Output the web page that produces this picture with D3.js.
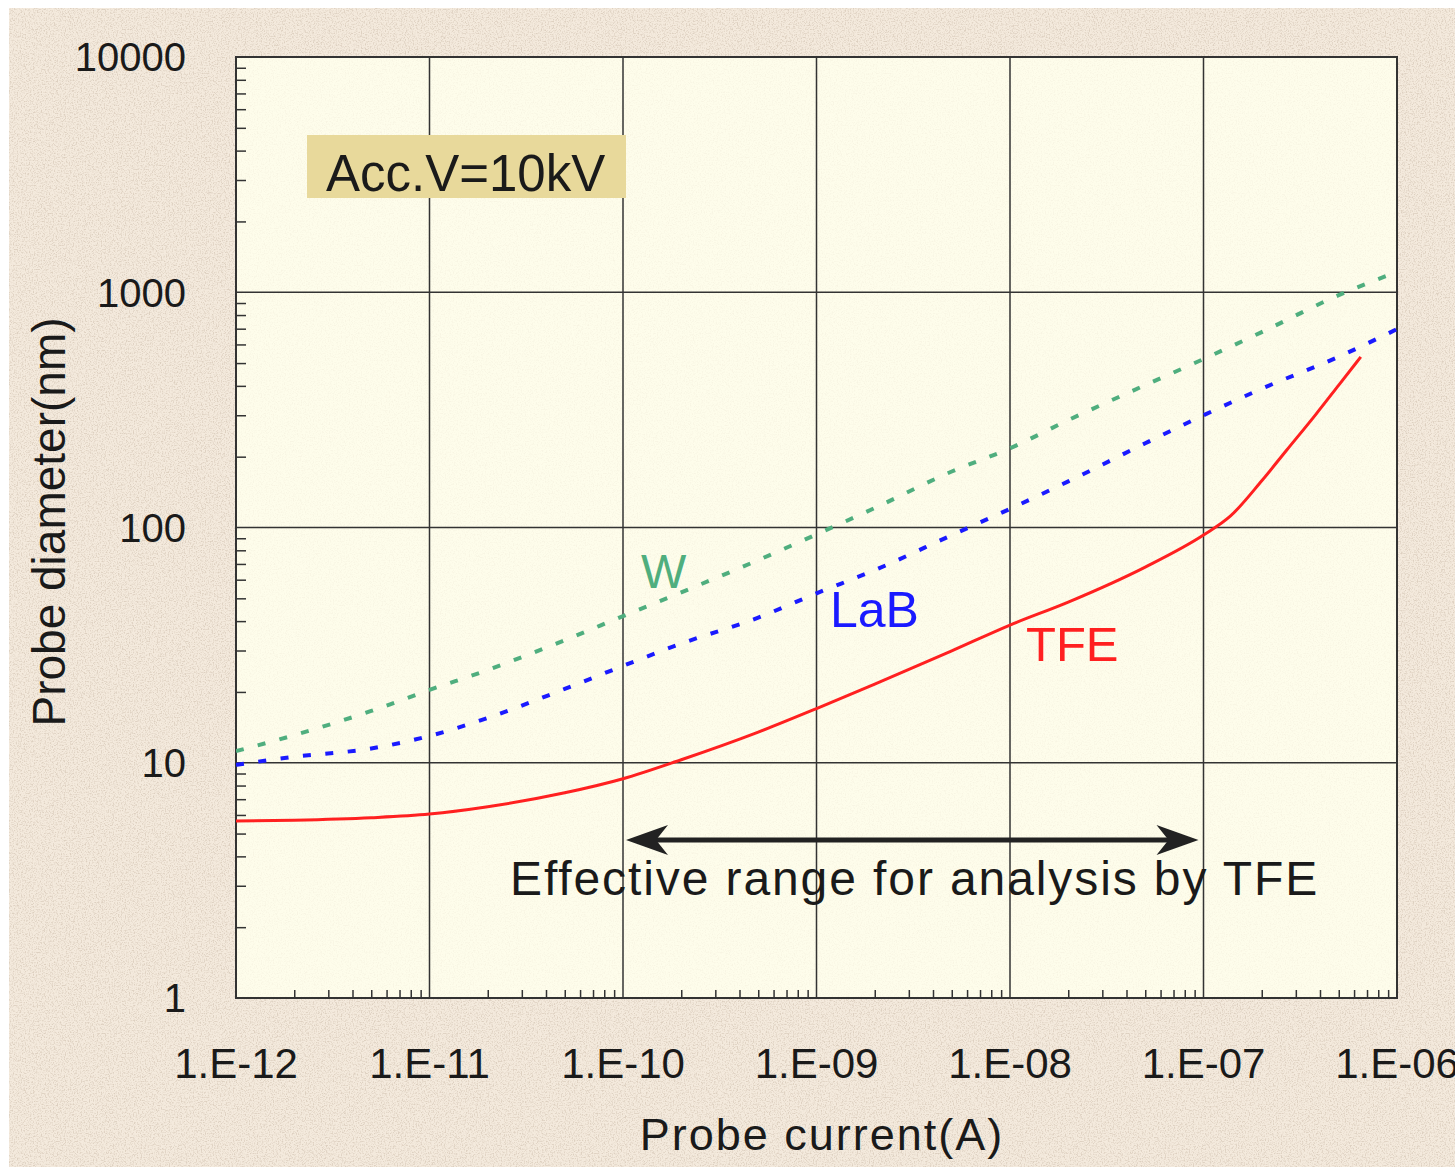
<!DOCTYPE html>
<meta charset="utf-8">
<script src="https://d3js.org/d3.v7.min.js"></script>
<style>
body { margin: 0; background: #fff; }
svg { display: block; font-family: Arial, 'Liberation Sans', sans-serif; }
</style>
<svg width="1455" height="1167"></svg>
<script>
// probe current (A) shared by W and LaB
var currentA = [1e-12, 2e-12, 5e-12, 1e-11, 2e-11, 5e-11, 1e-10, 2e-10, 5e-10,
                1e-9, 2e-9, 5e-9, 1e-8, 2e-8, 5e-8, 1e-7, 2e-7, 5e-7, 1e-6];
// probe diameter (nm)
var wDiam   = [11.2, 13.1, 16.6, 20.4, 24.8, 33.2, 42, 53, 72.7,
               93.5, 121, 173, 217, 286, 403, 520, 677, 972, 1221];
var labDiam = [9.8, 10.6, 11.5, 13.0, 15.5, 20.6, 25.8, 32.1, 41.4,
               52.5, 65.9, 92.8, 120, 157, 228, 300, 389, 532, 697];
// TFE has its own sampling (ends near 6.5E-07)
var tfeCurrent = [1e-12, 2e-12, 5e-12, 1e-11, 2e-11, 5e-11, 1e-10, 2e-10, 5e-10,
                  1e-9, 2e-9, 5e-9, 1e-8, 2e-8, 5e-8, 1e-7, 1.38e-7, 2e-7, 2.7e-7, 3.8e-7, 5e-7, 6.5e-7];
var tfeDiam    = [5.65, 5.7, 5.84, 6.05, 6.5, 7.45, 8.55, 10.3, 13.5,
                  17.0, 21.6, 29.9, 38.5, 48.2, 67.9, 92.9, 112, 158, 214, 302, 403, 531];

var xTicks = [1e-12, 1e-11, 1e-10, 1e-9, 1e-8, 1e-7, 1e-6];
var xTickLabels = ["1.E-12", "1.E-11", "1.E-10", "1.E-09", "1.E-08", "1.E-07", "1.E-06"];
var yTicks = [1, 10, 100, 1000, 10000];
var yTickLabels = ["1", "10", "100", "1000", "10000"];
var effRange = [1e-10, 1e-7]; // effective range for TFE

var svg = d3.select("svg");
var pL = 236, pR = 1397, pT = 57, pB = 998;

var x = d3.scaleLog().domain([1e-12, 1e-6]).range([pL, pR]);
var y = d3.scaleLog().domain([1, 10000]).range([pB, pT]);

// grain texture
var defs = svg.append("defs");
var f = defs.append("filter").attr("id", "grain").attr("x", 0).attr("y", 0).attr("width", 1).attr("height", 1);
f.append("feTurbulence").attr("type", "fractalNoise").attr("baseFrequency", 0.75).attr("numOctaves", 2).attr("seed", 4);
f.append("feColorMatrix").attr("type", "matrix")
  .attr("values", "0 0 0 0 0.62  0 0 0 0 0.52  0 0 0 0 0.42  3.2 0 0 0 -1.45");
defs.append("clipPath").attr("id", "plotclip").append("rect")
  .attr("x", pL).attr("y", pT).attr("width", pR - pL).attr("height", pB - pT);

// outer background
svg.append("rect").attr("x", 9).attr("y", 8).attr("width", 1446).attr("height", 1159).attr("fill", "#f4eadd");
svg.append("rect").attr("x", 9).attr("y", 8).attr("width", 1446).attr("height", 1159)
  .attr("filter", "url(#grain)").attr("opacity", 0.6);

// plot area
svg.append("rect").attr("x", pL).attr("y", pT).attr("width", pR - pL).attr("height", pB - pT)
  .attr("fill", "#fefdeb");
svg.append("rect").attr("x", pL).attr("y", pT).attr("width", pR - pL).attr("height", pB - pT)
  .attr("filter", "url(#grain)").attr("opacity", 0.12);

// major grid
var g = svg.append("g");
g.selectAll(".vg").data(xTicks).enter().append("line")
  .attr("x1", function(d) { return x(d); }).attr("x2", function(d) { return x(d); })
  .attr("y1", pT).attr("y2", pB).attr("stroke", "#333").attr("stroke-width", 1.5);
g.selectAll(".hg").data(yTicks).enter().append("line")
  .attr("y1", function(d) { return y(d); }).attr("y2", function(d) { return y(d); })
  .attr("x1", pL).attr("x2", pR).attr("stroke", "#333").attr("stroke-width", 1.5);

// minor ticks (inside)
var xMinor = [], yMinor = [];
xTicks.slice(0, -1).forEach(function(t) { for (var k = 2; k < 10; k++) xMinor.push(t * k); });
yTicks.slice(0, -1).forEach(function(t) { for (var k = 2; k < 10; k++) yMinor.push(t * k); });

svg.append("g").attr("transform", "translate(0," + pB + ")")
  .call(d3.axisBottom(x).tickValues(xMinor).tickSize(-8).tickFormat(""))
  .call(function(s) { s.select(".domain").remove(); s.selectAll("line").attr("stroke", "#333").attr("stroke-width", 1.5); });
svg.append("g").attr("transform", "translate(" + pL + ",0)")
  .call(d3.axisLeft(y).tickValues(yMinor).tickSize(-10).tickFormat(""))
  .call(function(s) { s.select(".domain").remove(); s.selectAll("line").attr("stroke", "#333").attr("stroke-width", 1.5); });

// frame
svg.append("rect").attr("x", pL).attr("y", pT).attr("width", pR - pL).attr("height", pB - pT)
  .attr("fill", "none").attr("stroke", "#333").attr("stroke-width", 2);

// tick labels
svg.append("g").selectAll("text").data(xTicks).enter().append("text")
  .attr("x", function(d) { return x(d); }).attr("y", 1078)
  .attr("text-anchor", "middle").attr("font-size", 42).attr("fill", "#1a1a1a")
  .text(function(d, i) { return xTickLabels[i]; });
svg.append("g").selectAll("text").data(yTicks).enter().append("text")
  .attr("x", 186).attr("y", function(d) { return y(d); }).attr("dy", "0.36em")
  .attr("text-anchor", "end").attr("font-size", 40).attr("fill", "#1a1a1a")
  .text(function(d, i) { return yTickLabels[i]; });

// axis titles
svg.append("text").attr("x", 822).attr("y", 1150).attr("text-anchor", "middle")
  .attr("font-size", 45).attr("letter-spacing", 2).attr("fill", "#1a1a1a").text("Probe current(A)");
svg.append("text").attr("transform", "translate(65,522) rotate(-90)").attr("text-anchor", "middle")
  .attr("font-size", 46).attr("fill", "#1a1a1a").text("Probe diameter(nm)");

// series
var plot = svg.append("g").attr("clip-path", "url(#plotclip)");
var line = d3.line().curve(d3.curveMonotoneX)
  .x(function(d) { return x(d[0]); }).y(function(d) { return y(d[1]); });

plot.append("path").datum(d3.zip(currentA, wDiam)).attr("d", line)
  .attr("fill", "none").attr("stroke", "#4fae7e").attr("stroke-width", 4).attr("stroke-dasharray", "8,14.5");
plot.append("path").datum(d3.zip(currentA, labDiam)).attr("d", line)
  .attr("fill", "none").attr("stroke", "#1a1aff").attr("stroke-width", 4).attr("stroke-dasharray", "8,14.5");
plot.append("path").datum(d3.zip(tfeCurrent, tfeDiam)).attr("d", line)
  .attr("fill", "none").attr("stroke", "#ff2020").attr("stroke-width", 3);

// series labels
svg.append("text").attr("x", 641).attr("y", 588).attr("font-size", 48).attr("fill", "#4fae7e").text("W");
svg.append("text").attr("x", 830).attr("y", 627).attr("font-size", 50).attr("fill", "#1a1aff").text("LaB");
svg.append("text").attr("x", 1026).attr("y", 661).attr("font-size", 49).attr("fill", "#ff2020").text("TFE");

// condition box
svg.append("rect").attr("x", 307).attr("y", 135).attr("width", 319).attr("height", 63).attr("fill", "#e8d99b");
svg.append("text").attr("x", 326).attr("y", 191).attr("font-size", 51).attr("fill", "#1a1a1a").text("Acc.V=10kV");

// effective range arrow
var ay = y(4.7), x0 = x(effRange[0]) + 3, x1 = x(effRange[1]) - 5;
var arrow = svg.append("g").attr("fill", "#222");
arrow.append("line").attr("x1", x0 + 20).attr("x2", x1 - 20).attr("y1", ay).attr("y2", ay)
  .attr("stroke", "#222").attr("stroke-width", 5);
arrow.append("path").attr("d", "M" + x0 + "," + ay + " L" + (x0 + 42) + "," + (ay - 15) +
  " L" + (x0 + 30) + "," + ay + " L" + (x0 + 42) + "," + (ay + 15) + "Z");
arrow.append("path").attr("d", "M" + x1 + "," + ay + " L" + (x1 - 42) + "," + (ay - 15) +
  " L" + (x1 - 30) + "," + ay + " L" + (x1 - 42) + "," + (ay + 15) + "Z");
svg.append("text").attr("x", 510).attr("y", 895).attr("font-size", 48).attr("letter-spacing", 1.9)
  .attr("fill", "#1a1a1a").text("Effective range for analysis by TFE");
</script>
